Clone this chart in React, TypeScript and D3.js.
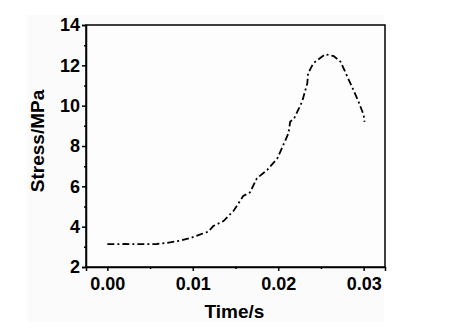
import * as d3 from "d3";
import { useEffect, useRef } from "react";

// values
const time = [
  0, 0.002, 0.004, 0.0058, 0.007, 0.0085, 0.0098, 0.0109, 0.0118, 0.0124, 0.0136,
  0.0148, 0.0159, 0.0167, 0.0175, 0.0187, 0.0199, 0.0206, 0.0212, 0.0214, 0.0219,
  0.0228, 0.0234, 0.0235, 0.0241, 0.0255, 0.0265, 0.0273, 0.0281, 0.0288, 0.0294,
  0.03, 0.0301,
];
const stress = [
  3.13, 3.14, 3.13, 3.14, 3.2, 3.3, 3.45, 3.62, 3.75, 4.03, 4.28, 4.8, 5.52, 5.7,
  6.4, 6.81, 7.39, 8.05, 8.63, 9.2, 9.4, 10.2, 11.1, 11.6, 12.1, 12.55, 12.46,
  12.18, 11.43, 10.78, 10.2, 9.54, 9.2,
];
const xTicks = [0, 0.01, 0.02, 0.03];
const xMinor = [0.005, 0.015, 0.025];
const yTicks = [2, 4, 6, 8, 10, 12, 14];
const yMinor = [3, 5, 7, 9, 11, 13];

const W = 459;
const H = 334;

const App = () => {
  const svgRef = useRef<SVGSVGElement | null>(null);

  useEffect(() => {
    const svg = d3.select(svgRef.current);
    svg.selectAll("*").remove();

    const left = 86;
    const right = 385;
    const top = 25;
    const bottom = 267;
    const font = "Liberation Sans, Arial, sans-serif";

    svg
      .append("rect")
      .attr("x", 27)
      .attr("y", 15)
      .attr("width", 357)
      .attr("height", 307)
      .style("fill", "#fbfbfb");

    const x = d3.scaleLinear().domain([-0.0025, 0.0325]).range([left, right]);
    const y = d3.scaleLinear().domain([2, 14]).range([bottom, top]);

    // frame
    svg
      .append("rect")
      .attr("x", left)
      .attr("y", top)
      .attr("width", right - left)
      .attr("height", bottom - top)
      .style("fill", "#fdfdfd")
      .style("stroke", "#000")
      .style("stroke-width", 1.5);

    const xAxis = svg
      .append("g")
      .attr("transform", `translate(0, ${bottom})`)
      .call(
        d3.axisBottom(x).tickValues(xTicks).tickSize(4).tickPadding(6)
          .tickFormat(d3.format(".2f"))
      );
    svg
      .append("g")
      .attr("transform", `translate(0, ${bottom})`)
      .call(d3.axisBottom(x).tickValues(xMinor).tickSize(2).tickFormat(() => ""))
      .call((g) => g.select(".domain").remove());

    const yAxis = svg
      .append("g")
      .attr("transform", `translate(${left}, 0)`)
      .call(d3.axisLeft(y).tickValues(yTicks).tickSize(4).tickPadding(2));
    svg
      .append("g")
      .attr("transform", `translate(${left}, 0)`)
      .call(d3.axisLeft(y).tickValues(yMinor).tickSize(2).tickFormat(() => ""))
      .call((g) => g.select(".domain").remove());

    svg.selectAll(".domain").attr("stroke-width", 1.5);
    svg.selectAll(".tick line").attr("stroke-width", 1.5);
    [xAxis, yAxis].forEach((g) =>
      g
        .selectAll("text")
        .style("font-family", font)
        .style("font-weight", "bold")
        .style("font-size", "18px")
        .attr("fill", "#000")
    );

    const line = d3
      .line<number>()
      .x((_, i) => x(time[i]))
      .y((d) => y(d))
      .curve(d3.curveLinear);

    svg
      .append("path")
      .attr("d", line(stress))
      .style("fill", "none")
      .style("stroke", "#000")
      .style("stroke-width", 1.8)
      .style("stroke-dasharray", "7,3,2,3");

    svg
      .append("text")
      .attr("x", (left + right) / 2 - 1)
      .attr("y", 318)
      .attr("text-anchor", "middle")
      .style("font-family", font)
      .style("font-weight", "bold")
      .style("font-size", "19px")
      .text("Time/s");

    svg
      .append("text")
      .attr("transform", `translate(44, ${(top + bottom) / 2 - 5}) rotate(-90)`)
      .attr("text-anchor", "middle")
      .style("font-family", font)
      .style("font-weight", "bold")
      .style("font-size", "19px")
      .text("Stress/MPa");
  }, []);

  return (
    <svg
      ref={svgRef}
      width={W}
      height={H}
      style={{ position: "absolute", left: 0, top: 0, background: "#fff" }}
    />
  );
};

export default App;
